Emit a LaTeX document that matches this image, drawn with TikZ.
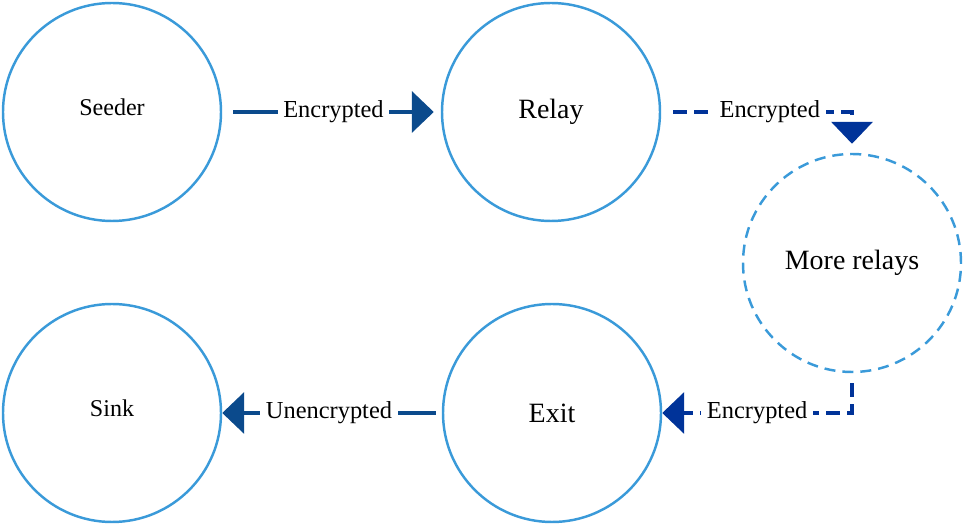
\documentclass[tikz,border=0pt]{standalone}
\usepackage{fontspec}
\setmainfont{Liberation Serif}
\usepackage{tikz}
\usetikzlibrary{arrows.meta}

\definecolor{ringblue}{HTML}{3A9AD9}
\definecolor{linkblue}{HTML}{0B4A8C}
\definecolor{dashblue}{HTML}{003399}

\begin{document}
\begin{tikzpicture}[
  ring/.style={draw=ringblue, line width=1.4pt, circle, minimum size=4.36cm, inner sep=0pt},
  peer/.style={ring, text depth=0.2cm, font=\fontsize{13.7}{16}\selectfont},
  hop/.style={ring, font=\fontsize{15.9}{19}\selectfont},
  link/.style={draw=linkblue, line width=2.3pt, -{Triangle[length=0.44cm,width=0.82cm]}},
  dlink/.style={link, draw=dashblue, dash pattern=on 0.28cm off 0.14cm},
  tag/.style={fill=white, inner sep=3.2pt, font=\fontsize{13.9}{16}\selectfont}
]
\useasboundingbox (0,0) rectangle (19.34,-10.52);

\node[peer] (seeder) at (2.24,-2.24) {Seeder};
\node[hop] (relay) at (11.02,-2.24) {Relay};
\node[hop, dash pattern=on 0.22cm off 0.14cm] (more) at (17.04,-5.26) {More relays};
\node[hop] (exit) at (11.04,-8.26) {Exit};
\node[peer] (sink) at (2.24,-8.26) {Sink};

\draw[link] ([xshift=0.22cm]seeder.east) -- ([xshift=-0.14cm]relay.west) node[tag, midway] {Encrypted};
\draw[dlink] ([xshift=0.24cm]relay.east) -| ([yshift=0.18cm]more.north) node[tag, pos=0.27] {Encrypted};
\draw[dlink] ([yshift=-0.2cm]more.south) |- (exit.east) node[tag, pos=0.75] {Encrypted};
\draw[link] ([xshift=-0.12cm]exit.west) -- (sink.east) node[tag, midway] {Unencrypted};
\end{tikzpicture}
\end{document}
